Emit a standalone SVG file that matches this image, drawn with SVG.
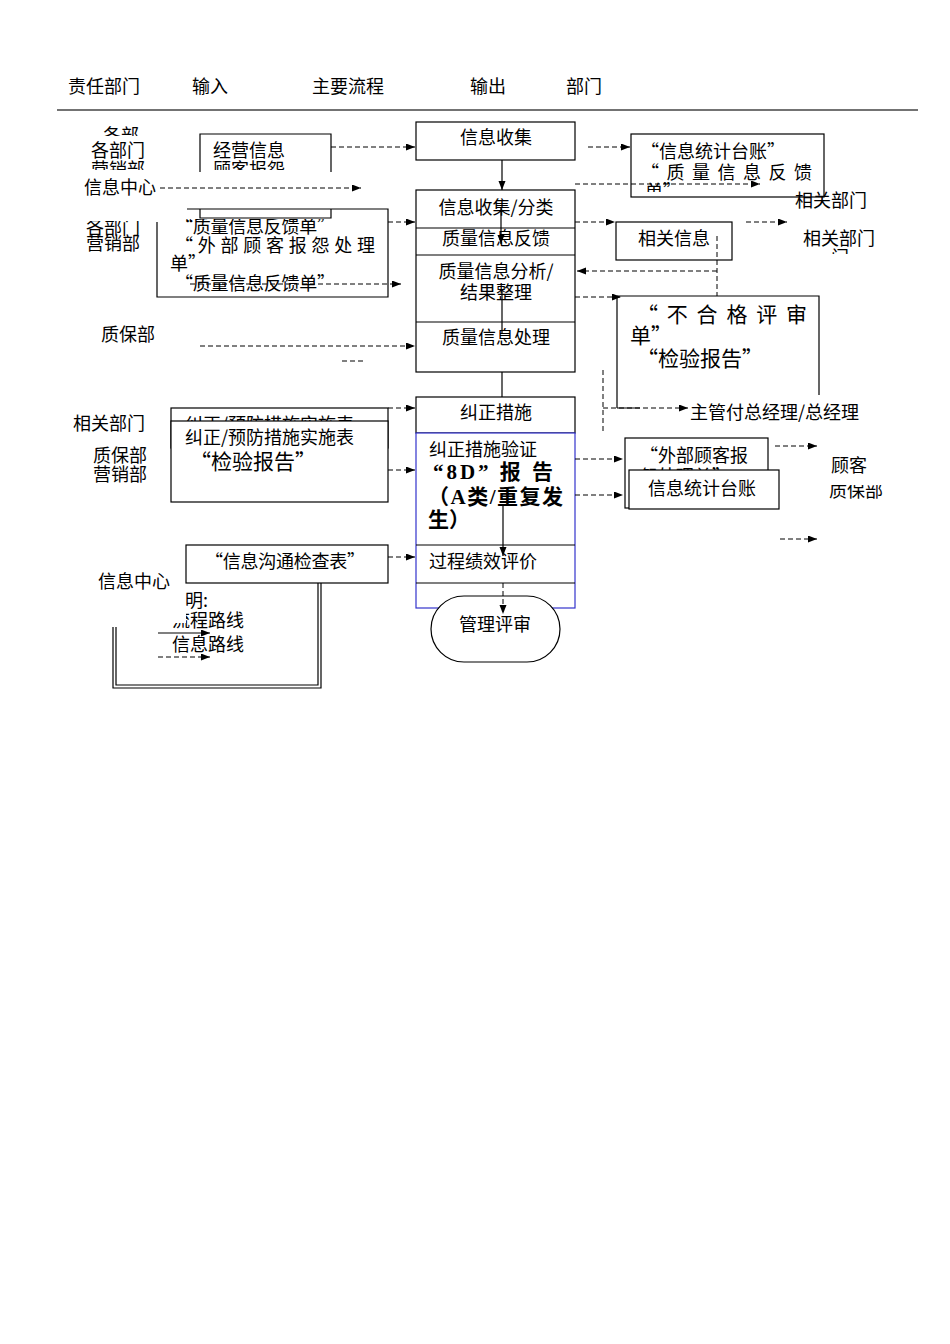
<svg xmlns="http://www.w3.org/2000/svg" width="950" height="1344" viewBox="0 0 950 1344">
<style>
.t{font-family:"Noto Sans CJK SC","Liberation Sans",sans-serif;font-size:18px;fill:#000}
.L{font-size:21px}
.s{font-family:"Liberation Serif","Noto Sans CJK SC",serif;font-size:21px;font-weight:bold}
.d{stroke:#000;stroke-width:1;stroke-dasharray:5 3;fill:none}
.l{stroke:#000;stroke-width:1.2;fill:none}
.b{fill:#fff;stroke:#000;stroke-width:1.2}
</style>
<defs>
<marker id="a" markerUnits="userSpaceOnUse" markerWidth="10" markerHeight="8" refX="9" refY="3.5" orient="auto"><path d="M0 0L9 3.5L0 7z" fill="#000"/></marker>
<clipPath id="c1"><rect x="90" y="120" width="60" height="16"/></clipPath>
<clipPath id="c2"><rect x="80" y="150" width="260" height="20"/></clipPath>
<clipPath id="c3"><rect x="80" y="221" width="80" height="20"/></clipPath>
<clipPath id="c4"><rect x="160" y="219" width="200" height="20"/></clipPath>
<clipPath id="c5"><rect x="630" y="170" width="60" height="22"/></clipPath>
<clipPath id="c6"><rect x="820" y="485" width="80" height="20"/></clipPath>
<clipPath id="c7"><path d="M186 600H260V640H186z M168 623H186V640H168z"/></clipPath>
<clipPath id="c8"><rect x="830" y="244" width="30" height="10"/></clipPath>
</defs>
<rect width="950" height="1344" fill="#fff"/>

<g id="header">
<text class="t" x="68" y="93">责任部门</text>
<text class="t" x="192" y="93">输入</text>
<text class="t" x="312" y="93">主要流程</text>
<text class="t" x="470" y="93">输出</text>
<text class="t" x="566" y="93">部门</text>
<path d="M57 110H918" stroke="#444" stroke-width="1.6"/>
</g>

<g id="dept-left">
<text class="t" x="103" y="142" font-size="17" clip-path="url(#c1)">各部</text>
<text class="t" x="91" y="157">各部门</text>
<text class="t" x="91" y="176" clip-path="url(#c2)">营销部</text>
<text class="t" x="84" y="194">信息中心</text>
<text class="t" x="86" y="234" clip-path="url(#c3)">各部门</text>
<text class="t" x="86" y="250">营销部</text>
<text class="t" x="101" y="341">质保部</text>
<text class="t" x="73" y="430">相关部门</text>
<text class="t" x="93" y="462">质保部</text>
<text class="t" x="93" y="481">营销部</text>
<text class="t" x="98" y="588">信息中心</text>
</g>

<g id="input1">
<path class="l" d="M200 172V134H331V172"/>
<path class="l" d="M200 209V218H331V209"/>
<text class="t" x="213" y="157">经营信息</text>
<text class="t" x="213" y="176" clip-path="url(#c2)">顾客报怨</text>
</g>

<g id="input2">
<path class="l" d="M187 209H388V297H157V222"/>
<text class="t" x="175" y="233" textLength="160" clip-path="url(#c4)">“质量信息反馈单”</text>
<text class="t" x="175" y="252" textLength="200" lengthAdjust="spacing">“外部顾客报怨处理</text>
<text class="t" x="170" y="270">单”</text>
<text class="t" x="175" y="290" textLength="160">“质量信息反馈单”</text>
</g>

<g id="input3">
<rect class="b" x="171" y="408" width="217" height="40"/>
<text class="t" x="185" y="431">纠正/预防措施实施表</text>
<rect class="b" x="171" y="421" width="217" height="81"/>
<text class="t" x="185" y="444">纠正/预防措施实施表</text>
<text class="t L" x="190" y="469">“检验报告”</text>
</g>

<g id="input4">
<rect class="b" x="186" y="545" width="202" height="38"/>
<text class="t" x="205" y="568" textLength="160">“信息沟通检查表”</text>
</g>

<g id="legend">
<path class="l" d="M113 627V688H321V583M116 627V685H318V583"/>
<text class="t" x="185" y="607">明:</text>
<text class="t" x="172" y="627" clip-path="url(#c7)">流程路线</text>
<path class="l" d="M158 633H210" marker-end="url(#a)"/>
<text class="t" x="172" y="651">信息路线</text>
<path class="d" d="M158 657H210" marker-end="url(#a)"/>
</g>

<g id="main">
<rect class="b" x="416" y="122" width="159" height="38"/>
<text class="t" x="496" y="144" text-anchor="middle">信息收集</text>
<rect class="b" x="416" y="190" width="159" height="182"/>
<path class="l" d="M416 228H575M416 255H575M416 322H575"/>
<text class="t" x="496" y="214" text-anchor="middle">信息收集/分类</text>
<text class="t" x="496" y="245" text-anchor="middle">质量信息反馈</text>
<text class="t" x="496" y="278" text-anchor="middle">质量信息分析/</text>
<text class="t" x="496" y="299" text-anchor="middle">结果整理</text>
<text class="t" x="496" y="344" text-anchor="middle">质量信息处理</text>
<rect class="b" x="416" y="397" width="159" height="36"/>
<text class="t" x="496" y="419" text-anchor="middle">纠正措施</text>
<rect x="416" y="433" width="159" height="175" fill="#fff" stroke="#3333cc" stroke-width="1.2"/>
<text class="t" x="429" y="456">纠正措施验证</text>
<text class="s" x="433" y="479" textLength="120" lengthAdjust="spacing">“8D” 报 告</text>
<text class="s" x="428" y="504" textLength="135" lengthAdjust="spacing">（A类/重复发</text>
<text class="s" x="428" y="527">生）</text>
<path class="l" d="M416 545H575M416 583H575"/>
<text class="t" x="429" y="568">过程绩效评价</text>
<rect class="b" x="431" y="596" width="129" height="66" rx="33"/>
<text class="t" x="495" y="631" text-anchor="middle">管理评审</text>
</g>

<g id="out1">
<rect class="b" x="631" y="134" width="193" height="63"/>
<text class="t" x="641" y="158">“信息统计台账”</text>
<text class="t" x="641" y="179" textLength="171" lengthAdjust="spacing">“质量信息反馈</text>
<text class="t" x="645" y="198" clip-path="url(#c5)">单”</text>
</g>
<g id="out2">
<rect class="b" x="616" y="222" width="116" height="38"/>
<text class="t" x="638" y="245">相关信息</text>
</g>
<g id="out3">
<path class="l" d="M617 408V296H819V395M617 408H640"/>
<text class="t L" x="637" y="322" textLength="170" lengthAdjust="spacing">“不合格评审</text>
<text class="t L" x="630" y="343">单”</text>
<text class="t L" x="637" y="366">“检验报告”</text>
</g>
<g id="out4">
<rect class="b" x="625" y="438" width="143" height="70"/>
<text class="t" x="640" y="462">“外部顾客报</text>
<text class="t" x="640" y="483">怨处理单”</text>
<rect class="b" x="629" y="470" width="150" height="39"/>
<text class="t" x="648" y="495">信息统计台账</text>
</g>

<g id="dept-right">
<text class="t" x="795" y="207">相关部门</text>
<text class="t" x="803" y="245">相关部门</text>
<text class="t" x="831" y="264" clip-path="url(#c8)">门</text>
<text class="t" x="690" y="419">主管付总经理/总经理</text>
<text class="t" x="831" y="472">顾客</text>
<text class="t" x="829" y="497" font-size="16" clip-path="url(#c6)">质保部</text>
</g>

<g id="connectors">
<path class="l" d="M502 160V190" marker-end="url(#a)"/>
<path class="l" d="M501 207V244" marker-end="url(#a)"/>
<path class="l" d="M502 290V333"/>
<path class="l" d="M502 372V397"/>
<path class="l" d="M503 505V556" marker-end="url(#a)"/>
<path class="d" d="M503 583V614" marker-end="url(#a)"/>
<path class="d" d="M331 147H415" marker-end="url(#a)"/>
<path class="d" d="M160 188H361" marker-end="url(#a)"/>
<path class="d" d="M388 222H415" marker-end="url(#a)"/>
<path class="d" d="M190 284H401" marker-end="url(#a)"/>
<path class="d" d="M200 346H415" marker-end="url(#a)"/>
<path class="d" d="M342 361H363"/>
<path class="d" d="M388 408H415" marker-end="url(#a)"/>
<path class="d" d="M388 470H415" marker-end="url(#a)"/>
<path class="d" d="M388 557H415" marker-end="url(#a)"/>
<path class="d" d="M588 147H630" marker-end="url(#a)"/>
<path class="d" d="M575 184H760" marker-end="url(#a)"/>
<path class="d" d="M575 222H615" marker-end="url(#a)"/>
<path class="d" d="M746 222H787" marker-end="url(#a)"/>
<path class="d" d="M717 236V296"/>
<path class="d" d="M717 271H577" marker-end="url(#a)"/>
<path class="d" d="M575 297H621" marker-end="url(#a)"/>
<path class="d" d="M603 370V433"/>
<path class="d" d="M603 408H688" marker-end="url(#a)"/>
<path class="d" d="M575 459H623" marker-end="url(#a)"/>
<path class="d" d="M575 495H623" marker-end="url(#a)"/>
<path class="d" d="M775 446H817" marker-end="url(#a)"/>
<path class="d" d="M780 539H817" marker-end="url(#a)"/>
</g>
</svg>
